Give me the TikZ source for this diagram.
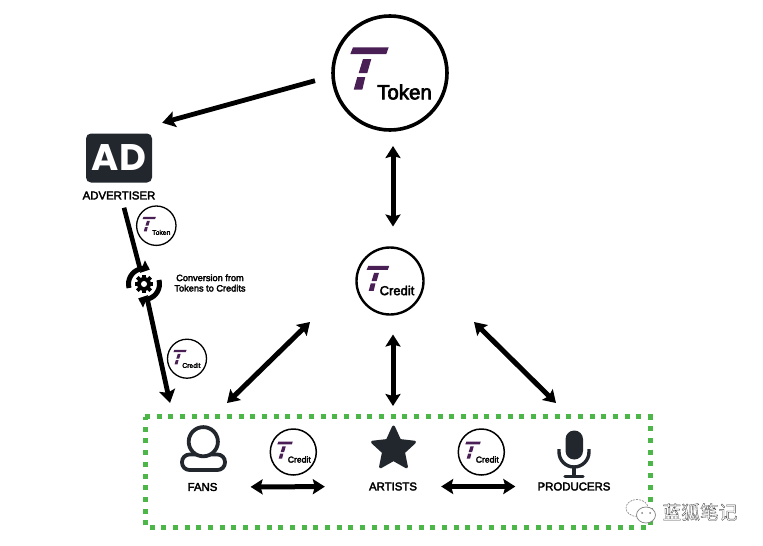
\documentclass[tikz,border=0pt]{standalone}
\usepackage{fontspec}
\setmainfont{Liberation Sans}
\newfontfamily\semi[FakeBold=3]{Liberation Sans}
\newfontfamily\pop[BoldFont={Poppins Bold}]{Poppins}
\newfontfamily\cjk{Noto Sans CJK SC}
\usetikzlibrary{arrows.meta,shapes.geometric,calc}
\definecolor{tpurple}{HTML}{4A1F55}
\definecolor{dark}{HTML}{22272E}
\definecolor{dotgreen}{HTML}{4CB648}
\tikzset{
  x=1pt,y=-1pt,
  coin/.style={circle,draw=black,fill=white,inner sep=0pt,outer sep=0pt},
  conn/.style={line width=5pt,draw=black,{Stealth[length=12pt,width=15pt,inset=2pt]}-{Stealth[length=12pt,width=15pt,inset=2pt]}},
  oneway/.style={line width=4.8pt,draw=black,-{Stealth[length=13pt,width=16pt,inset=2.5pt]}},
  plainline/.style={line width=4.6pt,draw=black},
  lab/.style={inner sep=0pt,font=\semi\fontsize{11.4}{13}\selectfont},
}
% name, x, y, radius, line width, label, font size, label dx, label dy
\newcommand{\coinlogo}[9]{%
  \node[coin,line width=#5pt,minimum size=2*#4pt] (#1) at (#2,#3) {};
  \begin{scope}[shift={(#2,#3)},scale=#4/57]
    \fill[tpurple] (-37,-25.7)--(-1.3,-25.7)--(-3.7,-19)--(-39.7,-19)--cycle;
    \fill[tpurple] (-27,-14)--(-18.7,-14)--(-22.7,0)--(-31.3,0)--cycle;
    \fill[tpurple] (-32.7,4)--(-24.7,4)--(-27.7,16.7)--(-36.3,16.7)--cycle;
  \end{scope}
  \node[inner sep=0pt,font=\semi\fontsize{#7}{#7}\selectfont] (#1-text) at ($(#2,#3)+(#8,#9)$) {#6};
}
\begin{document}
\begin{tikzpicture}
\useasboundingbox (0,0) rectangle (763,546);
\fill[white] (0,0) rectangle (763,546);

% central coins
\coinlogo{token}{390}{73}{57}{3.6}{Token}{20.5}{14.5}{19}
\coinlogo{credit}{390}{281}{33.5}{2.4}{Credit}{13}{7}{9.5}

% advertiser
\node[fill=dark,rounded corners=5pt,minimum width=66pt,minimum height=49pt,inner sep=0pt,
      text=white,font=\pop\bfseries\fontsize{37}{37}\selectfont] (ad) at (119,158) {AD};
\node[lab] (advlabel) at (119,195.5) {ADVERTISER};

% small coins on the left
\coinlogo{tokensmall}{156.3}{225.7}{19.7}{1.3}{Token}{6.8}{5}{6.7}
\coinlogo{creditsmall}{187}{358.7}{19.5}{1.3}{Credit}{6.8}{4.4}{6.7}

% conversion icon
\node[circle,minimum size=30pt,inner sep=0pt,outer sep=0pt] (conv) at (144,284) {};
\node[inner sep=0pt,align=center,font=\semi\fontsize{9.2}{10.4}\selectfont] (convtext) at (210,283) {Conversion from\\Tokens to Credits};

% green frame
\draw[dotgreen,line width=5pt,dash pattern=on 5pt off 6.7pt] (145,416.5) -- (650,416.5) -- (650,527.5) -- (145,527.5) -- cycle;

% group labels
\node[lab] (fans) at (202.5,487) {FANS};
\node[lab] (artists) at (393,486.5) {ARTISTS};
\node[lab] (producers) at (574,486.5) {PRODUCERS};

\coordinate (fanstop) at (227,403);
\coordinate (artiststop) at (393,406);
\coordinate (producerstop) at (556,403);
\coordinate (leftend) at (170,403);

% bottom coins
\coinlogo{creditA}{293.3}{452}{23}{1.5}{Credit}{8.6}{6}{7.5}
\coinlogo{creditB}{481.3}{452}{23}{1.5}{Credit}{8.6}{6}{7.5}

% connectors
\draw[oneway] ($(token)+(-75,7.7)$) -- ($(ad.north east)+(10,-10.5)$);
\draw[conn] ([xshift=3pt,yshift=-16pt]token.south) -- ([xshift=3pt,yshift=21pt]credit.north);
\draw[conn] ([xshift=3pt,yshift=-20pt]credit.south) -- (artiststop);
\draw[conn] ($(credit)+(-80,41)$) -- (fanstop);
\draw[conn] ($(credit)+(84,41)$) -- (producerstop);
\draw[plainline] ([xshift=5pt,yshift=-8pt]advlabel.south) -- (conv);
\draw[oneway] (conv) -- (leftend);
\draw[conn,shorten <=33pt,shorten >=44pt] (fans.east) -- (artists.west);
\draw[conn,shorten <=24pt,shorten >=22pt] (artists.east) -- (producers.west);

% conversion icon drawing, above the line
\fill[white] (144,284) circle (15);
\begin{scope}[shift={(144,284)},yscale=-1]
  \draw[line width=5pt,black,-{Triangle[length=8pt,width=13pt]}] (195:15.5) arc[start angle=195,end angle=68,radius=15.5];
  \draw[line width=5pt,black,-{Triangle[length=8pt,width=13pt]}] (15:15.5) arc[start angle=15,end angle=-112,radius=15.5];
  \foreach \a in {0,45,...,315} {\fill[black,rotate=\a] (-1.8,4) rectangle (1.8,9.4);}
  \fill[black] (0,0) circle (7);
  \fill[white] (0,0) circle (3);
\end{scope}

% fans icon
\draw[dark,line width=3.8pt,rounded corners=7.5pt] (182,454.5) rectangle (225,470);
\draw[dark,fill=white,line width=3.8pt] (203.3,441.7) circle (14.6);

% star icon
\node[star,star points=5,star point ratio=2.1,fill=dark,draw=dark,line width=3pt,line join=round,
      minimum size=44pt,inner sep=0pt] (staricon) at (393.5,449) {};

% microphone icon
\fill[dark,rounded corners=8.7pt] (565.5,430.5) rectangle (583,459.5);
\draw[dark,line width=3.4pt] (559,449) -- (559,452) arc[start angle=180,end angle=360,radius=15,y radius=-15] -- (589,449);
\draw[dark,line width=3.4pt] (574,467) -- (574,476);
\draw[dark,line width=3.2pt,line cap=round] (565,476.5) -- (583,476.5);

% watermark
\draw[gray,fill=white,line width=.6pt,dash pattern=on 2pt off 1pt] (637,508) ellipse (11 and 8.5);
\draw[gray,fill=white,line width=.7pt] (646,515) ellipse (9.5 and 8);
\fill[gray] (642,513) circle (1) (650,513) circle (1);
\node[inner sep=0pt,text=white,font=\cjk\fontsize{18.7}{19}\selectfont] (mark) at (700,512)
  {\special{pdf:code q 2 Tr 0.35 w 0.3 0.3 0.3 RG}蓝狐笔记\special{pdf:code Q}};
\end{tikzpicture}
\end{document}
